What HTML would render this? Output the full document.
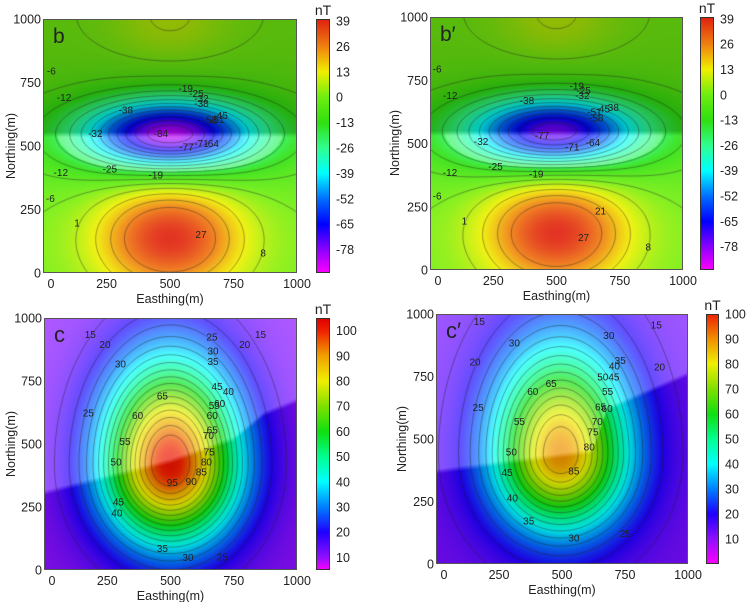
<!DOCTYPE html>
<html><head><meta charset="utf-8">
<style>
html,body{margin:0;padding:0;background:#fff;}
#root{position:relative;width:746px;height:602px;overflow:hidden;font-family:"Liberation Sans",sans-serif;}
canvas{position:absolute;}
#ov{position:absolute;left:0;top:0;}
</style></head>
<body>
<div id="root">
<svg id="ov" width="746" height="602"></svg>
</div>
<script>
// ---------- data ----------
const bCbTicks = [39,26,13,0,-13,-26,-39,-52,-65,-78];
const cCbTicks = [100,90,80,70,60,50,40,30,20,10];
const axisTicks = [0,250,500,750,1000];

const bLevels = [-84,-77.5,-71,-64.5,-58,-51.5,-45,-38.5,-32,-25.5,-19,-12.5,-6,0.5,7,13.5,20,26.5];
const cLevels = [15,20,25,30,35,40,45,50,55,60,65,70,75,80,85,90,95];

// gaussian anomaly components
const bAmp=[-64,-20,40,8], bCx=[500,500,500,500], bCy=[545,545,140,1010], bSx=[220,420,200,160], bSyU=[90,140,150,130], bSyD=[90,140,150,130];
const b2Amp=[-57,-20,40,8], b2Cx=[490,490,500,500], b2Cy=[545,545,150,1010], b2Sx=[220,420,200,160], b2SyU=[90,140,150,130], b2SyD=[90,140,150,130];
const cAmp=[92], cCx=[500], cCy=[420], cSx=[190], cSyU=[290], cSyD=[220];
const c2Amp=[78], c2Cx=[495], c2Cy=[440], c2Sx=[190], c2SyU=[300], c2SyD=[215];

// tone boundary (data coords)
const bBndX=[0,1000], bBndY=[545,545];
const b2BndX=[0,1000], b2BndY=[540,540];
const cBndX=[0,500,750,870,1000], cBndY=[306,432,520,620,672];
const c2BndX=[0,620,680,1000], c2BndY=[370,450,620,760];

// contour labels [value, x, y]
const bLabels=[["-6",33,795],["-12",83,690],["-19",562,727],["-25",604,707],["-32",624,687],["-38",624,668],["-38",326,641],["-45",699,621],["-51",686,604],["-58",657,602],["-32",206,549],["-84",464,549],["-77",565,497],["-71",624,510],["-64",664,510],["-25",263,409],["-19",444,385],["-12",70,396],["-6",29,294],["1",134,197],["27",622,151],["8",867,79]];
const b2Labels=[["-6",28,795],["-12",80,690],["-19",580,728],["-25",607,710],["-32",602,690],["-38",383,670],["-51",650,624],["-45",683,636],["-38",718,642],["-58",657,600],["-32",202,508],["-77",443,532],["-71",562,487],["-64",644,504],["-25",259,409],["-19",420,380],["-12",79,385],["-6",28,293],["1",136,194],["21",674,234],["27",607,129],["8",863,90]];
const cLabels=[["15",183,935],["25",664,924],["15",856,935],["20",241,894],["30",668,870],["20",793,894],["30",302,818],["35",668,827],["45",684,729],["40",729,709],["65",468,690],["25",175,624],["55",673,652],["60",694,660],["60",370,614],["60",665,614],["65",665,556],["70",650,533],["55",320,509],["75",653,468],["80",642,428],["50",285,428],["85",622,388],["95",507,348],["90",582,352],["45",294,269],["40",288,227],["35",468,86],["30",569,49],["25",705,51]];
const c2Labels=[["15",172,971],["30",686,915],["15",874,957],["30",311,885],["35",731,815],["40",708,792],["20",155,809],["20",887,789],["50",662,749],["45",706,749],["65",457,723],["60",384,691],["55",681,691],["25",167,627],["65",653,629],["60",679,623],["55",331,571],["70",640,571],["75",623,529],["80",608,469],["50",299,449],["85",547,373],["45",282,367],["40",303,264],["35",368,173],["30",547,104],["25",751,123]];

// colormaps
const bStopV=[-90,-80,-65,-52,-39,-26,-13,0,13,26,40];
const bStopC=["#ff00ff","#a000ff","#0000ff","#0070ff","#00ffff","#30ff90","#30e010","#70ee10","#f0f000","#f08010","#e02010"];
const cStopV=[5,10,20,30,40,50,60,70,80,90,100,105];
const cStopC=["#ff00ff","#9010ff","#2000ff","#0080ff","#00ffff","#00ff90","#10e010","#80e000","#f0f000","#f0a000","#f02000","#e00000"];
const c2StopV=[0,10,20,30,40,50,60,70,80,90,100];
const c2StopC=["#ff00ff","#9010ff","#2000ff","#0080ff","#00ffff","#00ff90","#10e010","#80e000","#f0f000","#f09000","#f02000"];

// ---------- layout ----------
const panels=[
 {key:"b",letter:"b",L:43,T:19,W:254,H:254,cbX:316,cbW:14,cbT:19,cbH:254,vmin:-90,vmax:40,ticks:bCbTicks,levels:bLevels,
  g:[bAmp,bCx,bCy,bSx,bSyU,bSyD],bnd:[bBndX,bBndY],above:"dark",labels:bLabels,sv:bStopV,sc:bStopC,ytx:15,yty:146},
 {key:"b2",letter:"b\u2032",L:430,T:17,W:253,H:253,cbX:700,cbW:14,cbT:17,cbH:253,vmin:-90,vmax:40,ticks:bCbTicks,levels:bLevels,
  g:[b2Amp,b2Cx,b2Cy,b2Sx,b2SyU,b2SyD],bnd:[b2BndX,b2BndY],above:"dark",labels:b2Labels,sv:bStopV,sc:bStopC,ytx:399,yty:143},
 {key:"c",letter:"c",L:44,T:318,W:253,H:252,cbX:316,cbW:14,cbT:318,cbH:252,vmin:5,vmax:105,ticks:cCbTicks,levels:cLevels,
  g:[cAmp,cCx,cCy,cSx,cSyU,cSyD],bnd:[cBndX,cBndY],above:"light",labels:cLabels,sv:cStopV,sc:cStopC,base:10,ytx:15,yty:444},
 {key:"c2",letter:"c\u2032",L:436,T:314,W:252,H:250,cbX:706,cbW:13,cbT:314,cbH:250,vmin:0,vmax:100,ticks:cCbTicks,levels:cLevels,
  g:[c2Amp,c2Cx,c2Cy,c2Sx,c2SyU,c2SyD],bnd:[c2BndX,c2BndY],above:"light",labels:c2Labels,sv:c2StopV,sc:c2StopC,base:12,ytx:406,yty:439}
];

function hex(c){return [parseInt(c.substr(1,2),16),parseInt(c.substr(3,2),16),parseInt(c.substr(5,2),16)];}
function cmap(p,v){
  const sv=p.sv, sc=p.sc;
  if(v<=sv[0]) return hex(sc[0]);
  for(let i=1;i<sv.length;i++){
    if(v<=sv[i]){const t=(v-sv[i-1])/(sv[i]-sv[i-1]);const a=hex(sc[i-1]),b=hex(sc[i]);
      return [a[0]+(b[0]-a[0])*t,a[1]+(b[1]-a[1])*t,a[2]+(b[2]-a[2])*t];}
  }
  return hex(sc[sc.length-1]);
}
function field(p,x,y){
  const [A,CX,CY,SX,SYU,SYD]=p.g; let s=p.base||0;
  for(let i=0;i<A.length;i++){
    const dx=(x-CX[i])/SX[i]; const dyr=y-CY[i]; const dy=dyr/(dyr>0?SYU[i]:SYD[i]);
    s+=A[i]*Math.exp(-0.5*(dx*dx+dy*dy));
  }
  return s;
}
function bndY(p,x){
  const X=p.bnd[0],Y=p.bnd[1];
  for(let i=1;i<X.length;i++){ if(x<=X[i]){const t=(x-X[i-1])/(X[i]-X[i-1]);return Y[i-1]+(Y[i]-Y[i-1])*t;} }
  return Y[Y.length-1];
}
const NS="http://www.w3.org/2000/svg";
const ov=document.getElementById("ov");
const root=document.getElementById("root");
function txt(x,y,s,size,anchor,name,extra){
  const t=document.createElementNS(NS,"text");
  t.setAttribute("x",x);t.setAttribute("y",y);t.setAttribute("font-size",size);
  t.setAttribute("text-anchor",anchor);t.setAttribute("fill","#222");
  t.setAttribute("font-family","Liberation Sans, sans-serif");
  if(extra) t.setAttribute("transform",extra);
  t.textContent=s;
  
  
  ov.appendChild(t); return t;
}

panels.forEach(p=>{
  const cv=document.createElement("canvas");
  cv.width=p.W;cv.height=p.H;cv.style.left=p.L+"px";cv.style.top=p.T+"px";
  
  
  root.insertBefore(cv,ov);
  const ctx=cv.getContext("2d");
  const img=ctx.createImageData(p.W,p.H);
  for(let py=0;py<p.H;py++){
    const y=(1-(py+0.5)/p.H)*1000;
    for(let px=0;px<p.W;px++){
      const x=(px+0.5)/p.W*1000;
      const v=field(p,x,y);
      let c=cmap(p,v);
      const d=y-bndY(p,x); let a=Math.max(0,Math.min(1,0.5+d/20));
      let up,dn;
      if(p.above==="dark"){
        up=[c[0]*0.78,c[1]*0.78,c[2]*0.78];
        const w=v<-20?0.35:0.08;
        dn=[c[0]*(1-w)+255*w,c[1]*(1-w)+255*w,c[2]*(1-w)+255*w];
      } else {
        up=[c[0]*0.7+255*0.3,c[1]*0.7+255*0.3,c[2]*0.7+255*0.3];
        dn=[c[0]*0.88,c[1]*0.88,c[2]*0.88];
      }
      const i=(py*p.W+px)*4;
      img.data[i]=up[0]*a+dn[0]*(1-a);img.data[i+1]=up[1]*a+dn[1]*(1-a);img.data[i+2]=up[2]*a+dn[2]*(1-a);img.data[i+3]=255;
    }
  }
  ctx.putImageData(img,0,0);
  const G=120, vals=[];
  for(let j=0;j<=G;j++){vals.push([]);for(let i=0;i<=G;i++)vals[j].push(field(p,i/G*1000,j/G*1000));}
  ctx.strokeStyle="rgba(35,35,35,0.55)";ctx.lineWidth=0.8;ctx.beginPath();
  const sx=p.W/G, sy=p.H/G;
  p.levels.forEach(lv=>{
    for(let j=0;j<G;j++)for(let i=0;i<G;i++){
      const c=[[i,j,vals[j][i]],[i+1,j,vals[j][i+1]],[i+1,j+1,vals[j+1][i+1]],[i,j+1,vals[j+1][i]]];
      const pts=[];
      for(let e=0;e<4;e++){const a=c[e],b=c[(e+1)%4];
        if((a[2]<lv)!==(b[2]<lv)){const t=(lv-a[2])/(b[2]-a[2]);pts.push([a[0]+(b[0]-a[0])*t,a[1]+(b[1]-a[1])*t]);}}
      for(let k=0;k+1<pts.length;k+=2){
        ctx.moveTo(pts[k][0]*sx,p.H-pts[k][1]*sy);ctx.lineTo(pts[k+1][0]*sx,p.H-pts[k+1][1]*sy);}
    }
  });
  ctx.stroke();
  const cb=document.createElement("canvas");
  cb.width=p.cbW;cb.height=p.cbH;cb.style.left=p.cbX+"px";cb.style.top=p.cbT+"px";
  
  
  root.insertBefore(cb,ov);
  const cx2=cb.getContext("2d");
  for(let py=0;py<p.cbH;py++){const v=p.vmax-(py+0.5)/p.cbH*(p.vmax-p.vmin);const c=cmap(p,v);
    cx2.fillStyle="rgb("+(c[0]|0)+","+(c[1]|0)+","+(c[2]|0)+")";cx2.fillRect(0,py,p.cbW,1);}
  const cbr=document.createElementNS(NS,"rect");
  cbr.setAttribute("x",p.cbX+0.5);cbr.setAttribute("y",p.cbT+0.5);cbr.setAttribute("width",p.cbW-1);cbr.setAttribute("height",p.cbH-1);
  cbr.setAttribute("fill","none");cbr.setAttribute("stroke","#333");cbr.setAttribute("stroke-width","1");
  
  
  ov.appendChild(cbr);
  p.ticks.forEach(v=>{
    const y=p.cbT+(p.vmax-v)/(p.vmax-p.vmin)*p.cbH;
    txt(p.cbX+p.cbW+6,y+4.5,String(v),12.5,"start",p.key+"-colorbar-tick");
  });
  txt(p.cbX+p.cbW/2,p.cbT-4,"nT",14,"middle",p.key+"-colorbar-title");
  const fr=document.createElementNS(NS,"rect");
  fr.setAttribute("x",p.L+0.5);fr.setAttribute("y",p.T+0.5);fr.setAttribute("width",p.W-1);fr.setAttribute("height",p.H-1);
  fr.setAttribute("fill","none");fr.setAttribute("stroke","#555");fr.setAttribute("stroke-width","1");
  
  
  ov.appendChild(fr);
  axisTicks.forEach(v=>{
    const y=p.T+(1-v/1000)*p.H;
    txt(p.L-2,y+4.5,String(v),12.5,"end",p.key+"-y-tick");
    const x=p.L+v/1000*p.W;
    txt(v===0?x+8:x,p.T+p.H+15,String(v),12.5,"middle",p.key+"-x-tick");
  });
  txt(p.L+p.W/2,p.T+p.H+30,"Easthing(m)",12.5,"middle",p.key+"-x-axis-title");
  txt(p.ytx,p.yty,"Northing(m)",12.5,"middle",p.key+"-y-axis-title","rotate(-90 "+p.ytx+" "+p.yty+")");
  txt(p.L+10,p.T+24,p.letter,p.key[0]==="b"?21:22,"start",p.key+"-panel-letter");
  p.labels.forEach(l=>{
    txt(p.L+l[1]/1000*p.W,p.T+(1-l[2]/1000)*p.H+3.5,l[0],10,"middle",p.key+"-contour-label");
  });
});
</script>
</body></html>
